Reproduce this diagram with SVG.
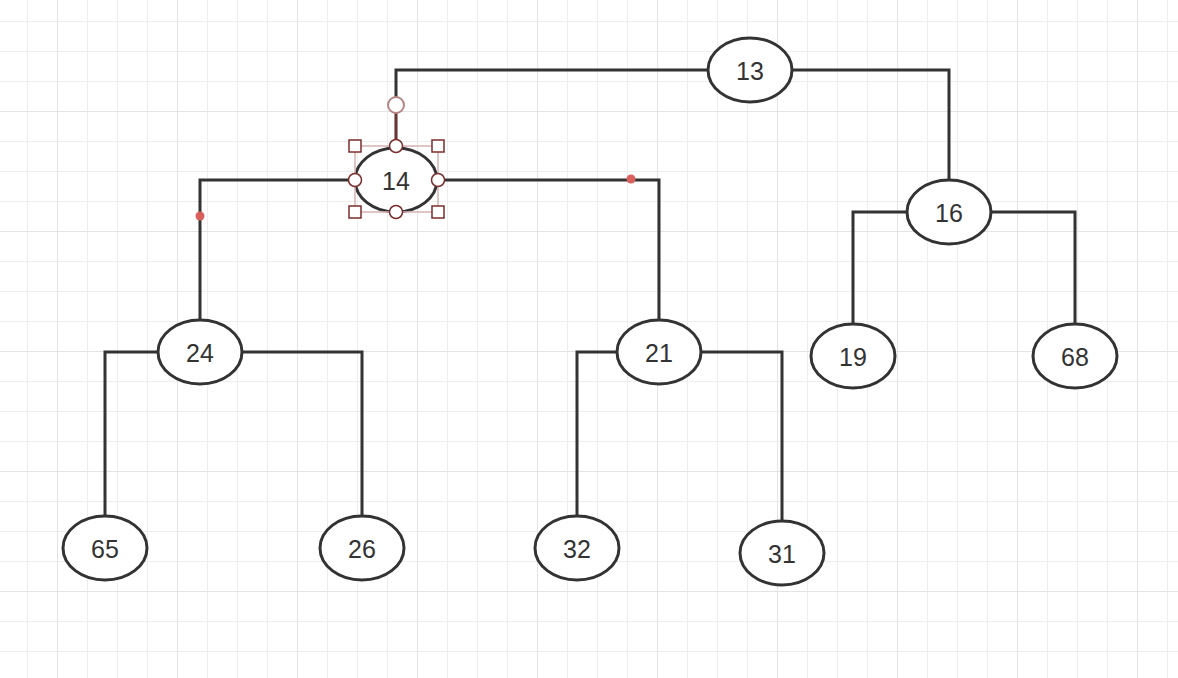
<svg xmlns="http://www.w3.org/2000/svg" width="1178" height="678" viewBox="0 0 1178 678">
<defs>
<pattern id="minor" x="27" y="21" width="30" height="30" patternUnits="userSpaceOnUse">
<path d="M0 0V30M0 0H30" fill="none" stroke="#eeeeee" stroke-width="2"/>
</pattern>
<pattern id="major" x="57" y="111" width="120" height="120" patternUnits="userSpaceOnUse">
<path d="M0 0V120M0 0H120" fill="none" stroke="#e4e4e4" stroke-width="2"/>
</pattern>
</defs>
<style>
.edge{fill:none;stroke:#333;stroke-width:3;stroke-linejoin:miter}
.node ellipse{fill:#fff;stroke:#333;stroke-width:3}
.node text{font-family:"Liberation Sans",Arial,sans-serif;font-size:25px;fill:#333;text-anchor:middle;dominant-baseline:central}
.hsq{fill:#fff;stroke:#7b2d2d;stroke-width:1.5}
.hci{fill:#fff;stroke:#7b2d2d;stroke-width:1.5}
.dot{fill:#d9605c}
</style>
<rect width="1178" height="678" fill="#fff"/>
<rect width="1178" height="678" fill="url(#minor)"/>
<rect width="1178" height="678" fill="url(#major)"/>
<g id="connectors">
<path class="edge" d="M708 70H396V148"/>
<path class="edge" d="M792 70H949V180"/>
<path class="edge" d="M355 180H200V320"/>
<path class="edge" d="M438 180H659V320"/>
<path class="edge" d="M907 212H853V324"/>
<path class="edge" d="M991 212H1075V324"/>
<path class="edge" d="M158 352H105V516"/>
<path class="edge" d="M242 352H362V516"/>
<path class="edge" d="M617 352H577V516"/>
<path class="edge" d="M701 352H782V521"/>
<circle class="dot" cx="200" cy="216" r="4.5"/>
<circle class="dot" cx="631" cy="179" r="4.5"/>
</g>
<g id="n13" class="node"><ellipse cx="750" cy="70" rx="42" ry="32"/><text x="750" y="71">13</text></g>
<g id="n14" class="node"><ellipse cx="396" cy="180" rx="41" ry="32"/><text x="396" y="181">14</text></g>
<g id="n16" class="node"><ellipse cx="949" cy="212" rx="42" ry="32"/><text x="949" y="213">16</text></g>
<g id="n24" class="node"><ellipse cx="200" cy="352" rx="42" ry="32"/><text x="200" y="353">24</text></g>
<g id="n21" class="node"><ellipse cx="659" cy="352" rx="42" ry="32"/><text x="659" y="353">21</text></g>
<g id="n19" class="node"><ellipse cx="853" cy="356" rx="42" ry="32"/><text x="853" y="357">19</text></g>
<g id="n68" class="node"><ellipse cx="1075" cy="356" rx="42" ry="32"/><text x="1075" y="357">68</text></g>
<g id="n65" class="node"><ellipse cx="105" cy="548" rx="42" ry="32"/><text x="105" y="549">65</text></g>
<g id="n26" class="node"><ellipse cx="362" cy="548" rx="42" ry="32"/><text x="362" y="549">26</text></g>
<g id="n32" class="node"><ellipse cx="577" cy="548" rx="42" ry="32"/><text x="577" y="549">32</text></g>
<g id="n31" class="node"><ellipse cx="782" cy="553" rx="42" ry="32"/><text x="782" y="554">31</text></g>
<g id="selection">
<rect x="355" y="146" width="83" height="66" fill="none" stroke="#d6b3b3" stroke-width="1.5"/>
<line x1="396" y1="113" x2="396" y2="146" stroke="#7b2d2d" stroke-width="2"/>
<circle cx="396" cy="105" r="8" fill="#fff" stroke="#b58585" stroke-width="2"/>
<rect class="hsq" x="349" y="140" width="12" height="12"/>
<rect class="hsq" x="432" y="140" width="12" height="12"/>
<rect class="hsq" x="349" y="206" width="12" height="12"/>
<rect class="hsq" x="432" y="206" width="12" height="12"/>
<circle class="hci" cx="396" cy="146" r="6.5"/>
<circle class="hci" cx="355" cy="180" r="6.5"/>
<circle class="hci" cx="438" cy="180" r="6.5"/>
<circle class="hci" cx="396" cy="212" r="6.5"/>
</g>
</svg>
